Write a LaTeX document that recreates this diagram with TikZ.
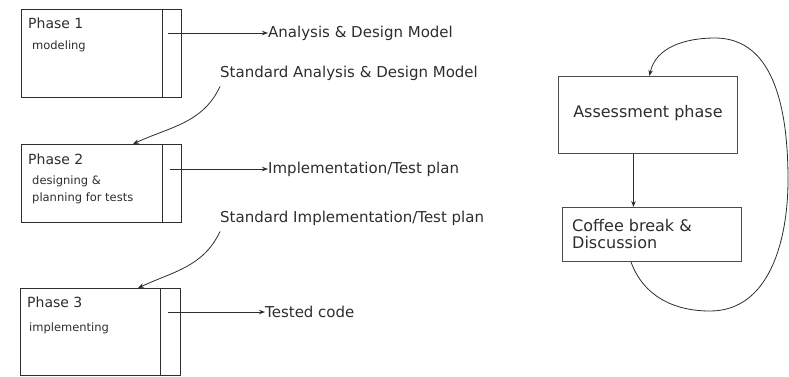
\documentclass[tikz,border=0pt]{standalone}
\usepackage{fontspec}
\setmainfont{DejaVu Sans}
\usetikzlibrary{arrows.meta,calc}
\definecolor{ink}{RGB}{45,45,45}
\tikzset{
  phasebox/.style={draw=ink, line width=0.9pt, minimum width=160pt, minimum height=78pt, anchor=north west, inner sep=0pt},
  rbox/.style={draw=ink!85, line width=0.9pt, inner sep=0pt},
  ttl/.style={anchor=base west, inner sep=0pt, font=\fontsize{14}{16}\selectfont, text=ink},
  sub/.style={anchor=base west, inner sep=0pt, font=\fontsize{11.5}{16}\selectfont, text=ink, align=left},
  lbl/.style={anchor=west, inner sep=0pt, font=\fontsize{15}{18}\selectfont, text=ink},
  conn/.style={draw=ink, line width=0.8pt, -{Stealth[length=6pt,width=4.5pt]}},
  curv/.style={draw=ink, line width=0.8pt, -{Stealth[length=6pt,width=4.5pt]}},
}
\begin{document}
\begin{tikzpicture}[x=1pt,y=-1pt]
\useasboundingbox (0,0) rectangle (789,376);
% Phase 1
\node[phasebox, minimum height=88pt] (p1) at (21,9) {};
\draw[draw=ink, line width=0.9pt] ($(p1.north east)+(-19,0)$) -- ($(p1.south east)+(-19,0)$);
\node[ttl] (p1t) at (28,28) {Phase 1};
\node[sub] (p1s) at (32,49) {modeling};
\coordinate (p1o) at (168,33);
\node[lbl] (l1) at (268,33) {Analysis \& Design Model};
\draw[conn] (p1o) -- (l1.west);
\node[lbl] (s1) at (220,73) {Standard Analysis \& Design Model};
% Phase 2
\node[phasebox] (p2) at (21,144) {};
\draw[draw=ink, line width=0.9pt] ($(p2.north east)+(-19,0)$) -- ($(p2.south east)+(-19,0)$);
\node[ttl] (p2t) at (28,164) {Phase 2};
\node[sub, anchor=north west, font=\fontsize{11.5}{16.5}\selectfont] (p2s) at (32,176) {designing \&\\planning for tests};
\draw[curv] ($(s1.south west)+(0,6)$) to[out=-115,in=25] ($(p2.north west)+(112,0)$);
\coordinate (p2o) at (170,169);
\node[lbl] (l2) at (268,169) {Implementation/Test plan};
\draw[conn] (p2o) -- (l2.west);
\node[lbl] (s2) at (220,218) {Standard Implementation/Test plan};
% Phase 3
\node[phasebox, minimum height=87pt] (p3) at (20,288) {};
\draw[draw=ink, line width=0.9pt] ($(p3.north east)+(-20,0)$) -- ($(p3.south east)+(-20,0)$);
\node[ttl] (p3t) at (27,307) {Phase 3};
\node[sub] (p3s) at (29,331) {implementing};
\draw[curv] ($(s2.south west)+(0,6)$) to[out=-115,in=25] ($(p3.north west)+(118,0)$);
\coordinate (p3o) at (168,312);
\node[lbl] (l3) at (265,312) {Tested code};
\draw[conn] (p3o) -- (l3.west);
% Right side
\node[rbox, minimum width=179pt, minimum height=77pt, anchor=north west,
      font=\fontsize{16}{18}\selectfont, text=ink, text depth=8pt] (a) at (558,76) {Assessment phase};
\node[rbox, minimum width=179pt, minimum height=54pt, anchor=north west] (c) at (562,207) {};
\node[anchor=west, inner sep=0pt, font=\fontsize{16}{17.5}\selectfont, text=ink, align=left] (ct) at (572,234) {Coffee break \&\\Discussion};
\draw[conn] ([xshift=-14.5pt]a.south) -- ([xshift=-14.5pt]a.south |- c.north);
\coordinate (lb) at (710,311);
\coordinate (lr) at (788,180);
\coordinate (lt) at (715,38);
\draw[curv] ([xshift=-21pt]c.south) to[out=-70,in=180] (lb) to[out=0,in=-90] (lr) to[out=90,in=0] (lt) to[out=180,in=78] ([xshift=1.5pt]a.north);
\end{tikzpicture}
\end{document}
